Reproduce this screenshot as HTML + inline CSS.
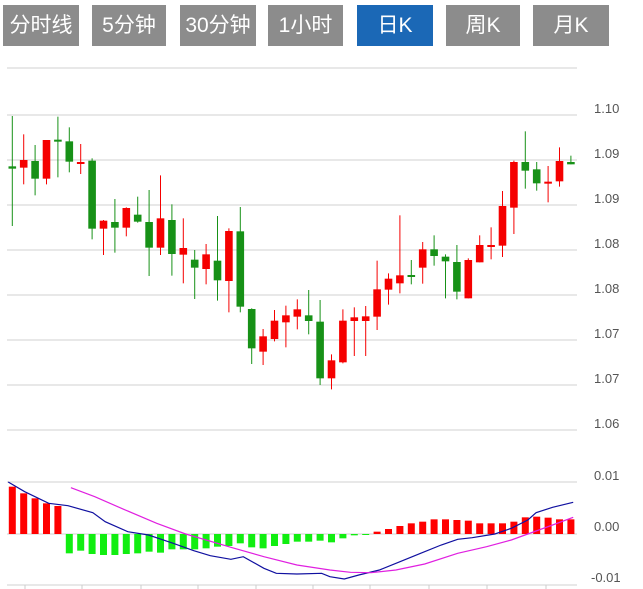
<!DOCTYPE html>
<html><head><meta charset="utf-8">
<style>
body{margin:0;background:#fff;width:643px;height:589px;overflow:hidden;font-family:"Liberation Sans","Noto Sans CJK SC",sans-serif}
.b{position:absolute;top:5px;height:41px;background:#8c8c8c;color:#fff;font-size:21px;line-height:41px;text-align:center}
svg{position:absolute;left:0;top:0}
</style></head><body>
<div class="b" style="left:3px;width:76px">分时线</div>
<div class="b" style="left:92px;width:74px">5分钟</div>
<div class="b" style="left:180px;width:76px">30分钟</div>
<div class="b" style="left:268px;width:75px">1小时</div>
<div class="b" style="left:357px;width:76px;background:#1b68b6">日K</div>
<div class="b" style="left:446px;width:74px">周K</div>
<div class="b" style="left:533px;width:76px">月K</div>
<svg id="s" width="643" height="589" xmlns="http://www.w3.org/2000/svg">
<g stroke="#e0e0e0" stroke-width="1.5">
<line x1="7" y1="68" x2="577" y2="68"/>
<line x1="7" y1="115" x2="577" y2="115"/>
<line x1="7" y1="160" x2="577" y2="160"/>
<line x1="7" y1="205" x2="577" y2="205"/>
<line x1="7" y1="250" x2="577" y2="250"/>
<line x1="7" y1="295" x2="577" y2="295"/>
<line x1="7" y1="340" x2="577" y2="340"/>
<line x1="7" y1="385" x2="577" y2="385"/>
<line x1="7" y1="430" x2="577" y2="430"/>
<line x1="7" y1="482" x2="577" y2="482"/>
<line x1="7" y1="534" x2="577" y2="534"/>
<line x1="7" y1="585" x2="577" y2="585"/>
</g>
<g fill="#555" font-size="13" font-family="Liberation Sans,sans-serif">
<text x="594" y="113">1.10</text><text x="594" y="158">1.09</text><text x="594" y="203">1.09</text>
<text x="594" y="248">1.08</text><text x="594" y="293">1.08</text><text x="594" y="338">1.07</text>
<text x="594" y="383">1.07</text><text x="594" y="428">1.06</text>
<text x="594" y="480">0.01</text><text x="594" y="531">0.00</text><text x="591" y="582">-0.01</text>
</g>
<g id="g"></g>
</svg>
<script>
var g=document.getElementById('g'),h='';
var C=[['g',199,206,48,378],['r',180,203,103,253],['g',183,236,135,286],['r',120,236,120,253],['g',119,122,50,232],['g',124,185,82,217],['r',186,191,132,222],['g',182,386,175,418],['r',362,386,360,465],['g',366,383,297,458],['r',324,383,322,409],['g',344,365,290,368],['g',366,443,270,528],['r',355,443,226,465],['g',360,462,313,527],['r',444,464,355,550],['g',479,503,450,597],['r',463,507,432,553],['g',482,541,348,602],['r',393,543,385,637],['g',394,620,321,637],['g',627,745,625,792],['r',709,755,687,795],['r',662,717,630,724],['r',646,667,617,742],['r',628,650,598,688],['g',646,663,570,703],['g',665,835,600,855],['r',781,835,763,868],['r',662,787,628,790],['r',652,663,622,768],['r',649,663,618,768],['r',568,650,482,690],['r',536,569,520,614],['r',526,550,346,580],['g',525,530,480,553],['r',448,503,426,551],['g',448,468,406,497],['g',470,484,463,595],['g',486,575,435,598],['r',480,595,475,595],['r',435,487,406,487],['r',435,440,382,478],['r',318,437,273,471],['r',186,323,182,402],['g',186,212,94,266],['g',208,250,186,272],['r',245,250,198,307],['r',183,244,142,260],['g',186,193,167,193]];
function X(i){return 12.3+11.4*i}
C.forEach(function(c,i){var x=X(i),col=c[0]=='r'?'#f50000':'#179117',t=100+c[1]/3,b=100+c[2]/3;if(b-t<2)b=t+2;
h+='<line x1="'+x+'" x2="'+x+'" y1="'+(100+c[3]/3)+'" y2="'+(100+c[4]/3)+'" stroke="'+col+'" stroke-width="1"/>';
h+='<rect x="'+(x-3.8)+'" y="'+t+'" width="7.6" height="'+(b-t)+'" fill="'+col+'"/>';});
var H=[80,100,115,130,138,280,272,282,285,285,282,280,275,278,268,268,268,265,260,258,250,262,265,258,252,245,245,242,247,235,226,224,215,207,198,190,185,178,178,180,182,190,190,190,185,172,170,173,178,178];
H.forEach(function(v,i){var x=X(i),z=534,y=460+v/3;var col=v<222?'#ff0000':'#11ee11';
h+='<rect x="'+(x-3.5)+'" y="'+Math.min(z,y)+'" width="7" height="'+Math.max(1,Math.abs(y-z))+'" fill="'+col+'"/>';});
function pl(p,col){var s=p.map(function(q){return (q[0]/2.425).toFixed(1)+','+(460+q[1]/3).toFixed(1)}).join(' ');return '<polyline points="'+s+'" fill="none" stroke="'+col+'" stroke-width="1.2"/>';}
h+=pl([[20,66],[60,95],[118,130],[165,137],[225,158],[255,185],[310,215],[360,225],[420,250],[470,272],[510,287],[560,298],[590,290],[640,325],[670,340],[720,342],[780,340],[800,350],[835,357],[870,345],[920,330],[970,305],[1020,280],[1070,255],[1110,238],[1145,233],[1200,222],[1240,205],[1280,180],[1300,158],[1340,142],[1390,127]],'#1010a0');
h+=pl([[172,83],[230,110],[300,148],[380,190],[450,222],[500,240],[560,262],[640,290],[720,315],[800,330],[850,337],[900,338],[960,330],[1030,312],[1110,280],[1180,260],[1240,240],[1280,222],[1340,195],[1390,172]],'#e020e0');
[25,82,141,198,256,313,370,429,487,546].forEach(function(x){h+='<line x1="'+x+'" x2="'+x+'" y1="585" y2="590" stroke="#ccc"/>';});
g.innerHTML=h;
</script>
</body></html>
